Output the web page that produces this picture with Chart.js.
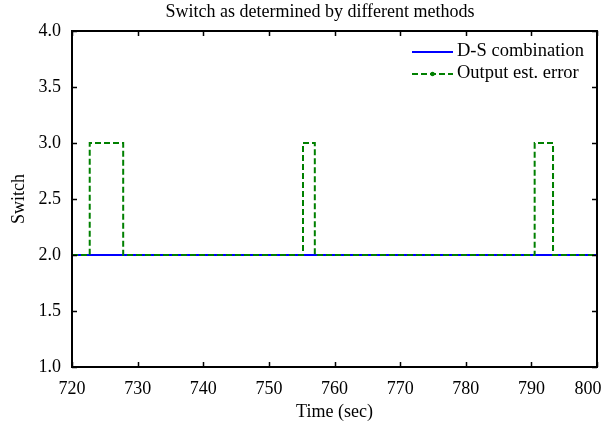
<!DOCTYPE html>
<html>
<head>
<meta charset="utf-8">
<script src="https://cdn.jsdelivr.net/npm/chart.js@4.4.1/dist/chart.umd.min.js"></script>
<style>
  html, body { margin: 0; padding: 0; background: #fff; }
  canvas { display: block; }
</style>
</head>
<body>
<canvas id="switchChart" width="604" height="430"></canvas>
<script>
// --- data ---
const chartTitle = 'Switch as determined by different methods';
const xTitle = 'Time (sec)';
const yTitle = 'Switch';
const xTickValues = [720, 730, 740, 750, 760, 770, 780, 790, 800];
const yTickValues = [1.0, 1.5, 2.0, 2.5, 3.0, 3.5, 4.0];
const seriesNames = ['D-S combination', 'Output est. error'];

// D-S combination stays on switch 2 for the whole window
const dsTime = [720, 800];
const dsSwitch = [2, 2];

// output estimation error flips to switch 3 three times (step points)
const errTime = [720, 722.7, 727.8, 755.2, 757.0, 790.5, 793.3, 800];
const errSwitch = [2, 3, 2, 3, 2, 3, 2, 2];

const serif = "'Liberation Serif', 'Times New Roman', serif";
Chart.defaults.color = '#000';

const toPoints = (xs, ys) => xs.map((x, i) => ({ x: x, y: ys[i] }));

// frame, inward ticks, title and legend (matlab style)
const matlabFrame = {
    id: 'matlabFrame',
    afterDraw: (chart) => {
        const ctx = chart.ctx;
        const area = chart.chartArea;
        const xs = chart.scales.x;
        const ys = chart.scales.y;
        const tick = 5;

        ctx.save();
        ctx.strokeStyle = '#000';
        ctx.lineWidth = 2;
        ctx.strokeRect(area.left, area.top, area.right - area.left, area.bottom - area.top);

        ctx.lineWidth = 1.5;
        ctx.beginPath();
        xTickValues.forEach(v => {
            const px = Math.round(xs.getPixelForValue(v)) + 0.5;
            ctx.moveTo(px, area.bottom);
            ctx.lineTo(px, area.bottom - tick);
            ctx.moveTo(px, area.top);
            ctx.lineTo(px, area.top + tick);
        });
        yTickValues.forEach(v => {
            const py = Math.round(ys.getPixelForValue(v)) + 0.5;
            ctx.moveTo(area.left, py);
            ctx.lineTo(area.left + tick, py);
            ctx.moveTo(area.right, py);
            ctx.lineTo(area.right - tick, py);
        });
        ctx.stroke();

        // title
        ctx.fillStyle = '#000';
        ctx.font = '18px ' + serif;
        ctx.textAlign = 'center';
        ctx.textBaseline = 'middle';
        ctx.fillText(chartTitle, 320, 12);

        // legend, top right inside the axes
        ctx.font = '18.5px ' + serif;
        ctx.textAlign = 'left';
        chart.data.datasets.forEach((ds, i) => {
            const y = 51 + i * 22;
            ctx.strokeStyle = ds.borderColor;
            ctx.lineWidth = ds.borderWidth;
            ctx.setLineDash(ds.borderDash || []);
            ctx.beginPath();
            ctx.moveTo(412, y + 1);
            ctx.lineTo(453, y + 1);
            ctx.stroke();
            ctx.setLineDash([]);
            if (ds.legendDot) {
                ctx.fillStyle = ds.borderColor;
                ctx.beginPath();
                ctx.arc(432.5, y + 1, 2.2, 0, Math.PI * 2);
                ctx.fill();
            }
            ctx.fillStyle = '#000';
            ctx.fillText(ds.label, 457, y);
        });
        ctx.restore();
    }
};

// fixed margins instead of the automatic room for overhanging labels
const fixMargins = (s, right) => {
    s.paddingLeft = 0;
    s.paddingRight = right;
    s.paddingTop = 0;
    s.paddingBottom = 0;
};

const lastX = xTickValues[xTickValues.length - 1];

const ctx = document.getElementById('switchChart').getContext('2d');
new Chart(ctx, {
    type: 'line',
    data: {
        datasets: [
            {
                label: seriesNames[0],
                data: toPoints(dsTime, dsSwitch),
                borderColor: '#0000ff',
                borderWidth: 2,
                pointRadius: 0,
                order: 1
            },
            {
                label: seriesNames[1],
                data: toPoints(errTime, errSwitch),
                borderColor: '#008000',
                borderWidth: 2,
                borderDash: [6, 3],
                stepped: 'before',
                pointRadius: 0,
                legendDot: true,
                order: 0
            }
        ]
    },
    options: {
        responsive: false,
        animation: false,
        layout: { padding: { top: 31, left: 8, right: 7, bottom: 7 } },
        plugins: {
            legend: { display: false },
            title: { display: false },
            tooltip: { enabled: false }
        },
        scales: {
            x: {
                type: 'linear',
                min: xTickValues[0],
                max: lastX,
                afterBuildTicks: (s) => { s.ticks = xTickValues.map(v => ({ value: v })); },
                afterFit: (s) => { s.height = 56; fixMargins(s, 7); },
                grid: { display: false, drawTicks: false },
                border: { display: false },
                ticks: {
                    padding: 11,
                    font: { family: serif, size: 18 },
                    maxRotation: 0,
                    // last label pulled inside the figure as in the original
                    callback: (v) => v === lastX ? v + '\u00a0\u00a0\u00a0\u00a0' : String(v)
                },
                title: { display: true, text: xTitle, padding: 0, font: { family: serif, size: 18 } }
            },
            y: {
                type: 'linear',
                min: yTickValues[0],
                max: yTickValues[yTickValues.length - 1],
                afterBuildTicks: (s) => { s.ticks = yTickValues.map(v => ({ value: v })); },
                afterFit: (s) => { s.width = 64; fixMargins(s, 0); },
                grid: { display: false, drawTicks: false },
                border: { display: false },
                ticks: {
                    padding: 11,
                    font: { family: serif, size: 18 },
                    callback: (v) => Number(v).toFixed(1)
                },
                title: { display: true, text: yTitle, padding: 0, font: { family: serif, size: 18 } }
            }
        }
    },
    plugins: [matlabFrame]
});
</script>
</body>
</html>
